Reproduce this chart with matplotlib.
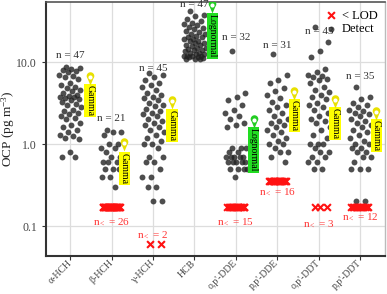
import numpy as np
import matplotlib
matplotlib.use('Agg')
import matplotlib.pyplot as plt
from matplotlib.path import Path

plt.rcParams['font.family'] = ['Liberation Serif', 'DejaVu Serif']
plt.rcParams['mathtext.fontset'] = 'custom'
plt.rcParams['mathtext.rm'] = 'Liberation Serif'
plt.rcParams['mathtext.it'] = 'Liberation Serif:italic'

compounds = ['α-HCH', 'β-HCH', 'γ-HCH', 'HCB', "o,p'-DDE", "p,p'-DDE", "o,p'-DDT", "p,p'-DDT"]

detects = [
    [8.7, 8.5, 8.2, 8.0, 7.8, 7.5, 7.0, 6.8, 6.5, 6.2, 5.5, 5.2, 5.0, 4.8, 4.6, 4.4, 4.2, 4.0,
     3.9, 3.8, 3.7, 3.6, 3.5, 3.4, 3.3, 3.1, 3.0, 2.8, 2.6, 2.5, 2.4, 2.3, 2.2, 2.1, 2.0, 1.8,
     1.7, 1.6, 1.5, 1.4, 1.3, 1.25, 1.2, 1.15, 0.8, 0.7, 0.7],
    [1.5, 1.4, 1.4, 1.3, 1.0, 1.0, 0.9, 0.9, 0.8, 0.7, 0.7, 0.6, 0.6, 0.6, 0.5, 0.5, 0.5, 0.5,
     0.4, 0.4, 0.3],
    [7.3, 7.0, 6.5, 6.0, 5.5, 5.2, 5.0, 4.6, 4.2, 4.0, 3.8, 3.6, 3.4, 3.2, 3.0, 2.9, 2.7, 2.5,
     2.4, 2.3, 2.2, 2.0, 1.9, 1.8, 1.7, 1.6, 1.5, 1.4, 1.3, 1.2, 1.1, 1.0, 1.0, 0.9, 0.7, 0.7,
     0.6, 0.6, 0.5, 0.4, 0.4, 0.3, 0.3, 0.2, 0.2],
    [42, 38, 36, 34, 32, 30, 29, 28, 27, 26, 25, 24, 23, 22, 22, 21, 20, 20, 19, 19, 18, 18,
     17, 17, 16, 16, 15.5, 15, 15, 14.5, 14, 14, 13.5, 13, 13, 12.5, 12.5, 12, 12, 12, 11.8,
     11.5, 11.5, 11.2, 11, 11, 10.8],
    [13.6, 4.2, 3.8, 3.4, 3.0, 2.6, 2.4, 2.2, 2.0, 1.8, 1.7, 1.6, 0.9, 0.9, 0.9, 0.8, 0.8,
     0.7, 0.7, 0.7, 0.7, 0.7, 0.6, 0.6, 0.6, 0.6, 0.6, 0.5, 0.5, 0.5, 0.5, 0.4],
    [12.6, 6.9, 6.0, 5.5, 4.8, 4.4, 4.0, 3.6, 3.3, 3.0, 2.8, 2.6, 2.4, 2.2, 2.0, 1.9, 1.8,
     1.7, 1.6, 1.5, 1.4, 1.3, 1.2, 1.1, 1.0, 1.0, 0.9, 0.8, 0.8, 0.7, 0.6],
    [27, 17.5, 13.6, 11.5, 8.2, 7.5, 7.0, 6.8, 6.5, 6.2, 6.0, 5.5, 5.0, 4.6, 4.3, 4.0, 3.8,
     3.5, 3.2, 3.0, 2.8, 2.6, 2.4, 2.2, 2.0, 1.9, 1.8, 1.6, 1.5, 1.3, 1.2, 1.0, 1.0, 1.0, 0.9,
     0.8, 0.8, 0.7, 0.7, 0.6, 0.6, 0.5, 0.5],
    [5.0, 3.8, 3.5, 3.2, 3.0, 2.8, 2.6, 2.5, 2.4, 2.3, 2.2, 2.0, 1.9, 1.8, 1.7, 1.6, 1.5, 1.4,
     1.3, 1.2, 1.1, 1.0, 1.0, 0.9, 0.9, 0.8, 0.8, 0.7, 0.7, 0.6, 0.5, 0.5, 0.5, 0.2, 0.2],
]
lod_counts = [0, 26, 2, 0, 15, 16, 3, 12]
lod_values = [None, 0.17, 0.06, None, 0.17, 0.35, 0.17, 0.17]
dists = ['Gamma', 'Gamma', 'Gamma', 'Lognormal', 'Lognormal', 'Gamma', 'Gamma', 'Gamma']

# label placement (data units)
n_label_y = [12.2, 2.07, 8.45, 51, 20.2, 16.1, 23.9, 6.75]
nlod_label_y = [None, 0.112, 0.078, None, 0.115, 0.26, 0.106, 0.129]
dist_dx = [0.48, 0.31, 0.46, 0.43, 0.43, 0.41, 0.39, 0.39]
dist_box_top = [5.24, 0.776, 2.6, 38.5, 1.57, 3.44, 2.75, 1.96]
dist_pin_y = [6.38, 1.0, 3.25, 48, 1.9, 4.19, 3.34, 2.39]
dist_colors = {'Gamma': '#FFFF00', 'Lognormal': '#22DD22'}
pin_colors = {'Gamma': '#E8E000', 'Lognormal': '#22CC22'}


def jitter(n, width):
    k = np.arange(n)
    return ((k * 0.6180339887 + 0.31) % 1.0 - 0.5) * 2 * width


# map-pin marker
th = np.linspace(np.radians(-40), np.radians(220), 30)
verts = [(0.0, -1.0)] + [(0.55 * np.cos(t), 0.35 + 0.55 * np.sin(t)) for t in th] + [(0.0, -1.0)]
pin = Path(verts, [Path.MOVETO] + [Path.LINETO] * (len(verts) - 2) + [Path.CLOSEPOLY])

fig = plt.figure(figsize=(3.87, 2.94), dpi=100)
ax = fig.add_axes([0.119, 0.129, 0.876, 0.864])
ax.set_yscale('log')

for i, vals in enumerate(detects):
    xs = i + jitter(len(vals), 0.27)
    ax.scatter(xs, vals, s=18, color='#222222', alpha=0.8, linewidths=0, zorder=3)
    if lod_counts[i]:
        xl = i + jitter(lod_counts[i], 0.22)
        ax.scatter(xl, [lod_values[i]] * lod_counts[i], marker='x', s=24, color='#FF1111',
                   linewidths=1.5, zorder=3)
        ax.text(i, nlod_label_y[i], r'n$_{<}$ = %d' % lod_counts[i], color='#FF3333',
                fontsize=8, ha='center', va='center', zorder=4)
    ax.text(i, n_label_y[i], 'n = %d' % len(vals), color='#333333', fontsize=8,
            ha='center', va='center', zorder=4)
    d = dists[i]
    ax.text(i + dist_dx[i], dist_box_top[i], d, rotation=270, fontsize=7, ha='center', va='top',
            color='black', zorder=5,
            bbox=dict(boxstyle='square,pad=0.12', facecolor=dist_colors[d], edgecolor='none'))
    ax.plot(i + dist_dx[i], dist_pin_y[i], marker=pin, markersize=10, color=pin_colors[d],
            markeredgewidth=0, zorder=6)
    ax.plot(i + dist_dx[i], dist_pin_y[i] * 1.03, marker='o', markersize=3, color='white',
            markeredgewidth=0, zorder=7)

ax.set_xlim(-0.58, 7.6)
ax.set_ylim(0.043, 54)
ax.set_xticks(range(len(compounds)))
ax.set_xticklabels(compounds, rotation=45, ha='right', va='center', rotation_mode='anchor',
                   fontsize=7, color='#444444')
ax.set_yticks([0.1, 1, 10])
ax.set_yticklabels(['0.1', '1.0', '10.0'], fontsize=8.5, color='#444444')
ax.minorticks_off()
ax.tick_params(axis='both', length=3, color='#333333')
ax.tick_params(axis='x', pad=1)
ax.set_ylabel(r'OCP (pg m$^{\mathrm{-3}}$)', fontsize=9.5, color='#222222')
ax.yaxis.set_label_coords(-0.085, 0.5)
ax.grid(True, color='#DDDDDD', linewidth=0.9, zorder=0)
ax.set_axisbelow(True)
for side in ['left', 'bottom']:
    ax.spines[side].set_color('#333333')
    ax.spines[side].set_linewidth(1.5)
ax.spines['top'].set_color('#555555')
ax.spines['top'].set_linewidth(1.2)
ax.spines['right'].set_color('#BBBBBB')
ax.spines['right'].set_linewidth(1.0)

h1 = ax.scatter([], [], marker='x', s=24, color='#FF1111', linewidths=1.5)
h2 = ax.scatter([], [], s=18, color='#222222', alpha=0.8, linewidths=0)
ax.legend([h1, h2], ['< LOD', 'Detect'], loc='upper right', frameon=False, fontsize=9,
          handletextpad=0.3, borderaxespad=0.2, labelspacing=0.15, handlelength=1.2)

fig.savefig('out.png', dpi=100)
